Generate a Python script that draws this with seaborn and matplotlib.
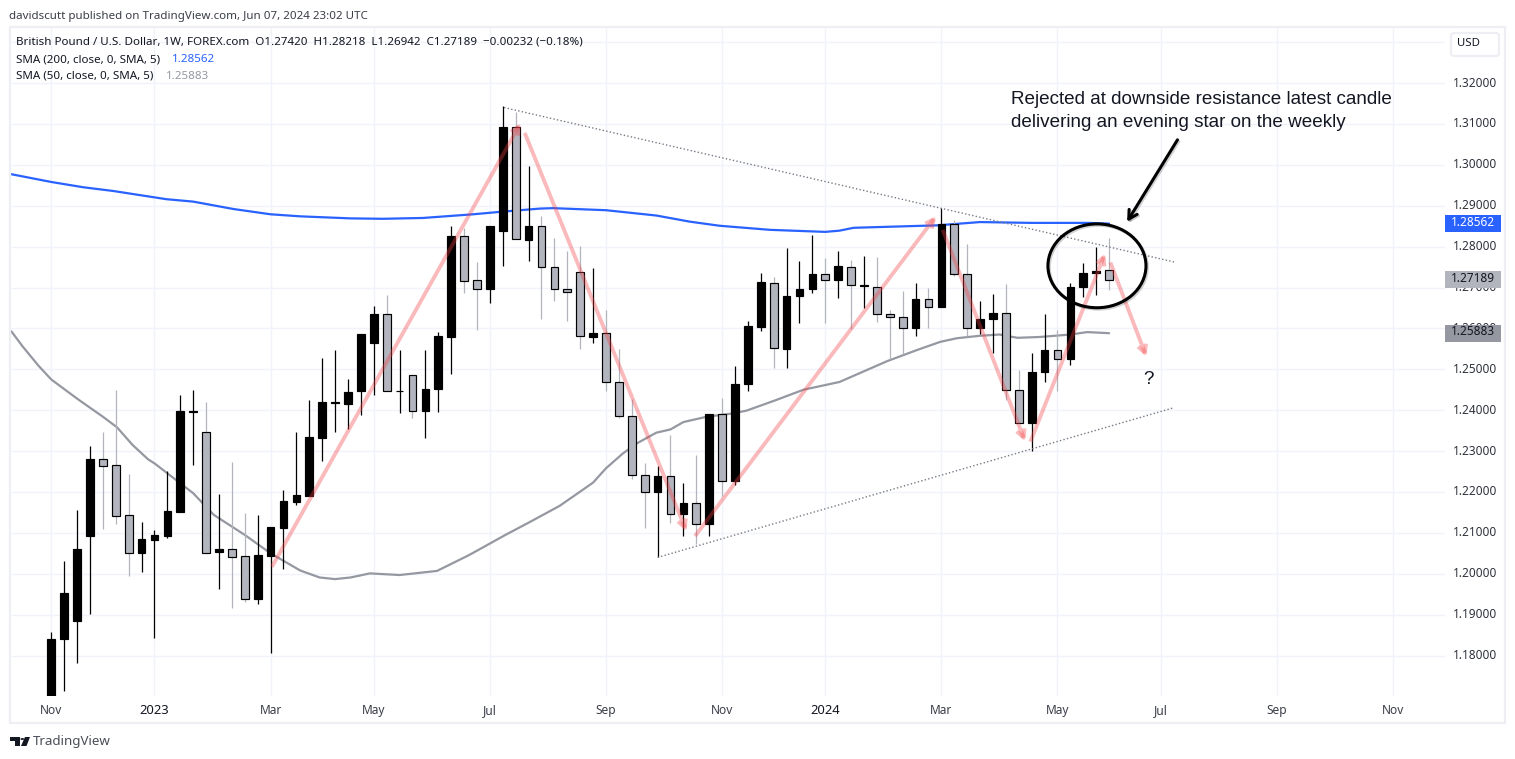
import matplotlib
matplotlib.use("Agg")
import matplotlib.pyplot as plt
import matplotlib.patheffects as pe
from matplotlib.patches import Rectangle, FancyArrowPatch, Ellipse, FancyBboxPatch, Polygon, Circle
from matplotlib.transforms import blended_transform_factory, ScaledTranslation
import numpy as np
import seaborn as sns

# ---- data ----
opens = [1.1680,1.1840,1.1885,1.2093,1.2280,1.2265,1.2143,1.2052,1.2083,1.2093,1.2152,1.2396,1.2346,1.2054,1.2060,1.2043,1.1939,1.2044,1.2113,1.2176,1.2191,
         1.2333,1.2417,1.2416,1.2448,1.2565,1.2634,1.2447,1.2485,1.2398,1.2452,1.2579,1.2825,1.2718,1.2696,1.2838,1.3093,1.2817,1.2850,1.2749,1.2696,
         1.2737,1.2580,1.2588,1.2468,1.2385,1.2241,1.2199,1.2238,1.2145,1.2172,1.2121,1.2390,1.2228,1.2463,1.2604,1.2712,1.2550,1.2679,1.2696,1.2732,
         1.2719,1.2751,1.2704,1.2702,1.2634,1.2629,1.2601,1.2673,1.2652,1.2856,1.2734,1.2601,1.2622,1.2638,1.2450,1.2368,1.2493,1.2547,1.2524,1.2701,1.2735,1.27420]
highs = [1.1857,1.2031,1.2156,1.2313,1.2347,1.2449,1.2244,1.2127,1.2107,1.2251,1.2437,1.2449,1.2420,1.2195,1.2273,1.2149,1.2144,1.2114,1.2205,1.2347,1.2425,
         1.2527,1.2547,1.2476,1.2586,1.2655,1.2682,1.2547,1.2485,1.2547,1.2591,1.2850,1.2846,1.2762,1.2850,1.3144,1.3128,1.2997,1.2875,1.2821,1.2789,
         1.2802,1.2748,1.2645,1.2549,1.2427,1.2272,1.2263,1.2339,1.2222,1.2290,1.2391,1.2430,1.2508,1.2617,1.2735,1.2725,1.2796,1.2764,1.2828,1.2771,
         1.2789,1.2767,1.2776,1.2774,1.2644,1.2691,1.2710,1.2700,1.2894,1.2864,1.2806,1.2668,1.2683,1.2709,1.2499,1.2541,1.2636,1.2595,1.2711,1.2761,1.2800,1.28218]
lows = [1.1660,1.1714,1.1783,1.1902,1.2110,1.2122,1.1995,1.2004,1.1844,1.2088,1.2152,1.2267,1.2050,1.1964,1.1917,1.1932,1.1925,1.1807,1.2012,1.2169,1.2191,
        1.2277,1.2347,1.2355,1.2389,1.2437,1.2448,1.2394,1.2381,1.2332,1.2396,1.2489,1.2687,1.2595,1.2661,1.2753,1.2818,1.2765,1.2623,1.2668,1.2619,
        1.2550,1.2565,1.2448,1.2382,1.2232,1.2112,1.2040,1.2125,1.2093,1.2073,1.2093,1.2190,1.2218,1.2448,1.2594,1.2503,1.2503,1.2613,1.2687,1.2613,
        1.2674,1.2598,1.2650,1.2616,1.2525,1.2538,1.2582,1.2601,1.2652,1.2727,1.2581,1.2586,1.2541,1.2426,1.2369,1.2301,1.2468,1.2446,1.2510,1.2676,1.2681,1.26942]
closes = [1.1840,1.1952,1.2060,1.2280,1.2264,1.2142,1.2052,1.2084,1.2094,1.2153,1.2398,1.2398,1.2050,1.2061,1.2042,1.1939,1.2045,1.2114,1.2177,1.2192,1.2334,
          1.2419,1.2419,1.2444,1.2586,1.2635,1.2448,1.2448,1.2398,1.2451,1.2581,1.2825,1.2717,1.2697,1.2850,1.3093,1.2818,1.2850,1.2749,1.2696,1.2690,
          1.2581,1.2588,1.2468,1.2385,1.2241,1.2199,1.2238,1.2145,1.2172,1.2121,1.2391,1.2228,1.2463,1.2605,1.2713,1.2551,1.2680,1.2697,1.2732,1.2719,
          1.2752,1.2705,1.2705,1.2634,1.2629,1.2602,1.2673,1.2653,1.2856,1.2734,1.2602,1.2623,1.2638,1.2450,1.2369,1.2494,1.2548,1.2525,1.2702,1.2736,1.2741,1.27189]

sma200_week = [-3.1,0,2.5,4.8,8.9,11,14.1,17,19.3,23.2,25.7,28.8,32.7,34.8,37.9,38.9,43,46.9,49.5,51.8,55.7,60,61.1,62.2,68.7,72,75.9,80.3,82]
sma200_val = [1.2977,1.2958,1.2945,1.2936,1.2916,1.2910,1.2892,1.2879,1.2874,1.2869,1.2868,1.2870,1.2879,1.2885,1.2893,1.2894,1.2889,1.2876,1.2861,1.2851,1.2841,1.2836,1.2839,1.2846,1.2852,1.2860,1.2858,1.2858,1.28562]

sma50_week = [-3.1,-2.2,-1,0,2.1,4,5.1,6.3,7.5,8,11,12.6,15,17,19.3,20.8,22,23.2,24.7,27,29.9,32.4,35.2,37,39.4,41,42,43,44.3,45.4,46.9,48,49,50.8,52.8,53.9,54.7,56.2,58.3,61.1,64.8,67.1,68.9,70.2,72,73.5,74.9,76.6,79,80.3,82]
sma50_val = [1.2593,1.2555,1.2509,1.2475,1.2426,1.2384,1.2358,1.2315,1.2280,1.2270,1.2197,1.2144,1.2095,1.2050,1.2008,1.1991,1.1987,1.1991,1.2001,1.1997,1.2007,1.2046,1.2095,1.2125,1.2166,1.2201,1.2223,1.2258,1.2294,1.2319,1.2345,1.2353,1.2371,1.2384,1.2392,1.2399,1.2408,1.2425,1.2450,1.2469,1.2520,1.2547,1.2567,1.2576,1.2582,1.2585,1.2577,1.2579,1.2585,1.2591,1.25883]

resistance_week = [35.1, 87.1]
resistance_val = [1.3140, 1.2762]
support_week = [47.0, 86.9]
support_val = [1.2040, 1.2405]

arrow_week = [(17.1,36.4),(36.7,49.25),(49.9,68.6),(69.1,75.5),(75.9,81.7),(82.1,84.9)]
arrow_val = [(1.2017,1.3103),(1.3078,1.2103),(1.2092,1.2875),(1.2841,1.2323),(1.2323,1.2784),(1.2761,1.2530)]

x_tick_weeks = [0,8,17,25,34,43,52,60,69,78,86,95,104]
x_tick_labels = ["Nov","2023","Mar","May","Jul","Sep","Nov","2024","Mar","May","Jul","Sep","Nov"]
y_ticks = [1.18,1.19,1.20,1.21,1.22,1.23,1.24,1.25,1.26,1.27,1.28,1.29,1.30,1.31,1.32]
y_grid = y_ticks + [1.33]

last_close = 1.27189
last_sma200 = 1.28562
last_sma50 = 1.25883

# ---- style ----
W, H = 1515, 759
sns.set_theme(style="white")
UI = ["Noto Sans", "DejaVu Sans"]
plt.rcParams["font.family"] = UI
INK = "#131722"
GRID = "#f0f3fa"
FRAME = "#eeeff5"
GREY = "#b2b5be"
MID = "#9598a1"
BLUE = "#2962ff"

def fx(x): return x / W
def fy(y): return 1 - y / H

fig = plt.figure(figsize=(W / 100, H / 100), dpi=100, facecolor="white")
ax = fig.add_axes([fx(11), fy(696), (1445 - 11) / W, (696 - 28) / H])
ax.set_xlim(-3.124, 108.04)
ax.set_ylim(1.17012, 1.33345)
for s in ax.spines.values():
    s.set_visible(False)

ax.hlines(y_grid, -3.124, 108.04, colors=GRID, lw=1.0, zorder=0)
ax.vlines(x_tick_weeks, 1.17012, 1.33345, colors=GRID, lw=1.0, zorder=0)

weeks = np.arange(len(opens))
o, h, l, c = map(np.array, (opens, highs, lows, closes))
up = c >= o

sns.lineplot(x=sma50_week, y=sma50_val, ax=ax, color=MID, lw=1.6, estimator=None, sort=False, zorder=2)
sns.lineplot(x=sma200_week, y=sma200_val, ax=ax, color=BLUE, lw=1.6, estimator=None, sort=False, zorder=2)

ax.vlines(weeks, l, h, colors=["black" if u else GREY for u in up], lw=0.9, zorder=2.6)
ax.bar(weeks, np.abs(c - o), bottom=np.minimum(o, c), width=0.6,
       color=["black" if u else GREY for u in up], edgecolor="black", linewidth=0.85, zorder=3)

dot = (0, (1, 1.6))
ax.plot(resistance_week, resistance_val, color="#787b86", lw=1, ls=dot, zorder=4)
ax.plot(support_week, support_val, color="#787b86", lw=1, ls=dot, zorder=4)

shadow = [pe.SimpleLineShadow(offset=(1, -1), alpha=0.18, shadow_color="black"), pe.Normal()]
for (x0, x1), (y0, y1) in zip(arrow_week, arrow_val):
    ax.add_patch(FancyArrowPatch((x0, y0), (x1, y1), arrowstyle="->,head_length=6,head_width=3",
                                 color=(0.95, 0.25, 0.27, 0.36), lw=2.8, shrinkA=0, shrinkB=0,
                                 mutation_scale=1, zorder=5, capstyle="butt"))

ax.add_patch(Ellipse((81.06, 1.2753), 7.6, 0.0205, fill=False, ec="black", lw=2.2, zorder=6, path_effects=shadow))
ax.add_patch(FancyArrowPatch((87.3, 1.3061), (83.4, 1.2861), arrowstyle="->,head_length=6,head_width=3.4",
                             color="black", lw=2.2, shrinkA=0, shrinkB=0, mutation_scale=1, zorder=6,
                             path_effects=shadow))

note = dict(family=["Liberation Sans"], color=INK, fontsize=13.6, ha="left", va="center", zorder=7)
ax.text(fx(1011), fy(99.5), "Rejected at downside resistance latest candle", transform=fig.transFigure, **note)
ax.text(fx(1011), fy(122.5), "delivering an evening star on the weekly", transform=fig.transFigure, **note)
ax.text(fx(1149), fy(379), "?", transform=fig.transFigure, family=["Liberation Sans"], color=INK,
        fontsize=13.6, ha="center", va="center", zorder=7)

# axes
ax.set_xticks(x_tick_weeks)
ax.set_xticklabels(x_tick_labels, fontsize=8.6, color="#3b3f48")
for t, s in zip(ax.get_xticklabels(), x_tick_labels):
    if s.isdigit():
        t.set_color(INK); t.set_fontsize(9.4)
ax.tick_params(axis="x", length=0, pad=5.6)
ax.yaxis.tick_right()
ax.set_yticks(y_ticks)
ax.set_yticklabels([f"{v:.5f}" for v in y_ticks], fontsize=8.5, color="#2e323b")
ax.tick_params(axis="y", length=0, pad=5.5)
up_shift = ScaledTranslation(0, 1.5 / 100, fig.dpi_scale_trans)
for t in ax.get_yticklabels():
    t.set_transform(t.get_transform() + up_shift)

# price badges
btr = blended_transform_factory(ax.transAxes, ax.transData)
bh = 17 / 40.9 * 0.01
for val, fc, tc, wt in [(last_sma200, BLUE, "white", "bold"), (last_close, GREY, INK, "normal"), (last_sma50, MID, INK, "normal")]:
    ax.add_patch(Rectangle((1.0, val - bh / 2), 56 / 1434, bh, transform=btr, fc=fc, ec="none", clip_on=False, zorder=8))
    ax.text(1 + 50 / 1434, val, f"{val:.5f}", transform=btr + up_shift, ha="right", va="center", color=tc, fontsize=8.5,
            fontweight=wt, zorder=9, clip_on=False)

# frame and USD button
fig.add_artist(Rectangle((fx(10), fy(723)), (1505 - 10) / W, (723 - 27) / H, transform=fig.transFigure,
                         fill=False, ec=FRAME, lw=1.6))
fig.add_artist(FancyBboxPatch((fx(1451), fy(56)), 48 / W, 23 / H, boxstyle="round,pad=0,rounding_size=0.002",
                              transform=fig.transFigure, fc="white", ec=FRAME, lw=1.6, mutation_aspect=2))
fig.text(fx(1468), fy(44), "USD", ha="center", va="center", fontsize=8.2, color=INK)

# header and legend
fig.text(fx(9), fy(16.5), "davidscutt published on TradingView.com, Jun 07, 2024 23:02 UTC",
         ha="left", va="center", fontsize=8.33, color="#3a3e47")
fig.text(fx(16), fy(42.5), "British Pound / U.S. Dollar, 1W, FOREX.com  O1.27420  H1.28218  L1.26942  C1.27189  \u22120.00232 (\u22120.18%)",
         ha="left", va="center", fontsize=8.35, color=INK)
fig.text(fx(16), fy(59.5), "SMA (200, close, 0, SMA, 5)", ha="left", va="center", fontsize=8.35, color=INK)
fig.text(fx(172), fy(59.5), f"{last_sma200:.5f}", ha="left", va="center", fontsize=8.35, color=BLUE)
fig.text(fx(16), fy(76.5), "SMA (50, close, 0, SMA, 5)", ha="left", va="center", fontsize=8.35, color=INK)
fig.text(fx(166), fy(76.5), f"{last_sma50:.5f}", ha="left", va="center", fontsize=8.35, color=MID)

# TradingView logo
def poly(pts):
    fig.add_artist(Polygon([(fx(a), fy(b)) for a, b in pts], closed=True, transform=fig.transFigure, fc=INK, ec="none"))
poly([(10, 737), (20, 737), (20, 746), (15, 746), (15, 741), (10, 741)])
poly([(25, 737), (30, 737), (26.5, 746), (21, 746)])
fig.add_artist(Circle((fx(22.3), fy(739)), 1.9 / W, transform=fig.transFigure, fc=INK, ec="none"))
fig.text(fx(33), fy(741.5), "TradingView", ha="left", va="center", fontsize=9.6, color="#4a4e57")

fig.savefig("out.png", dpi=100)
